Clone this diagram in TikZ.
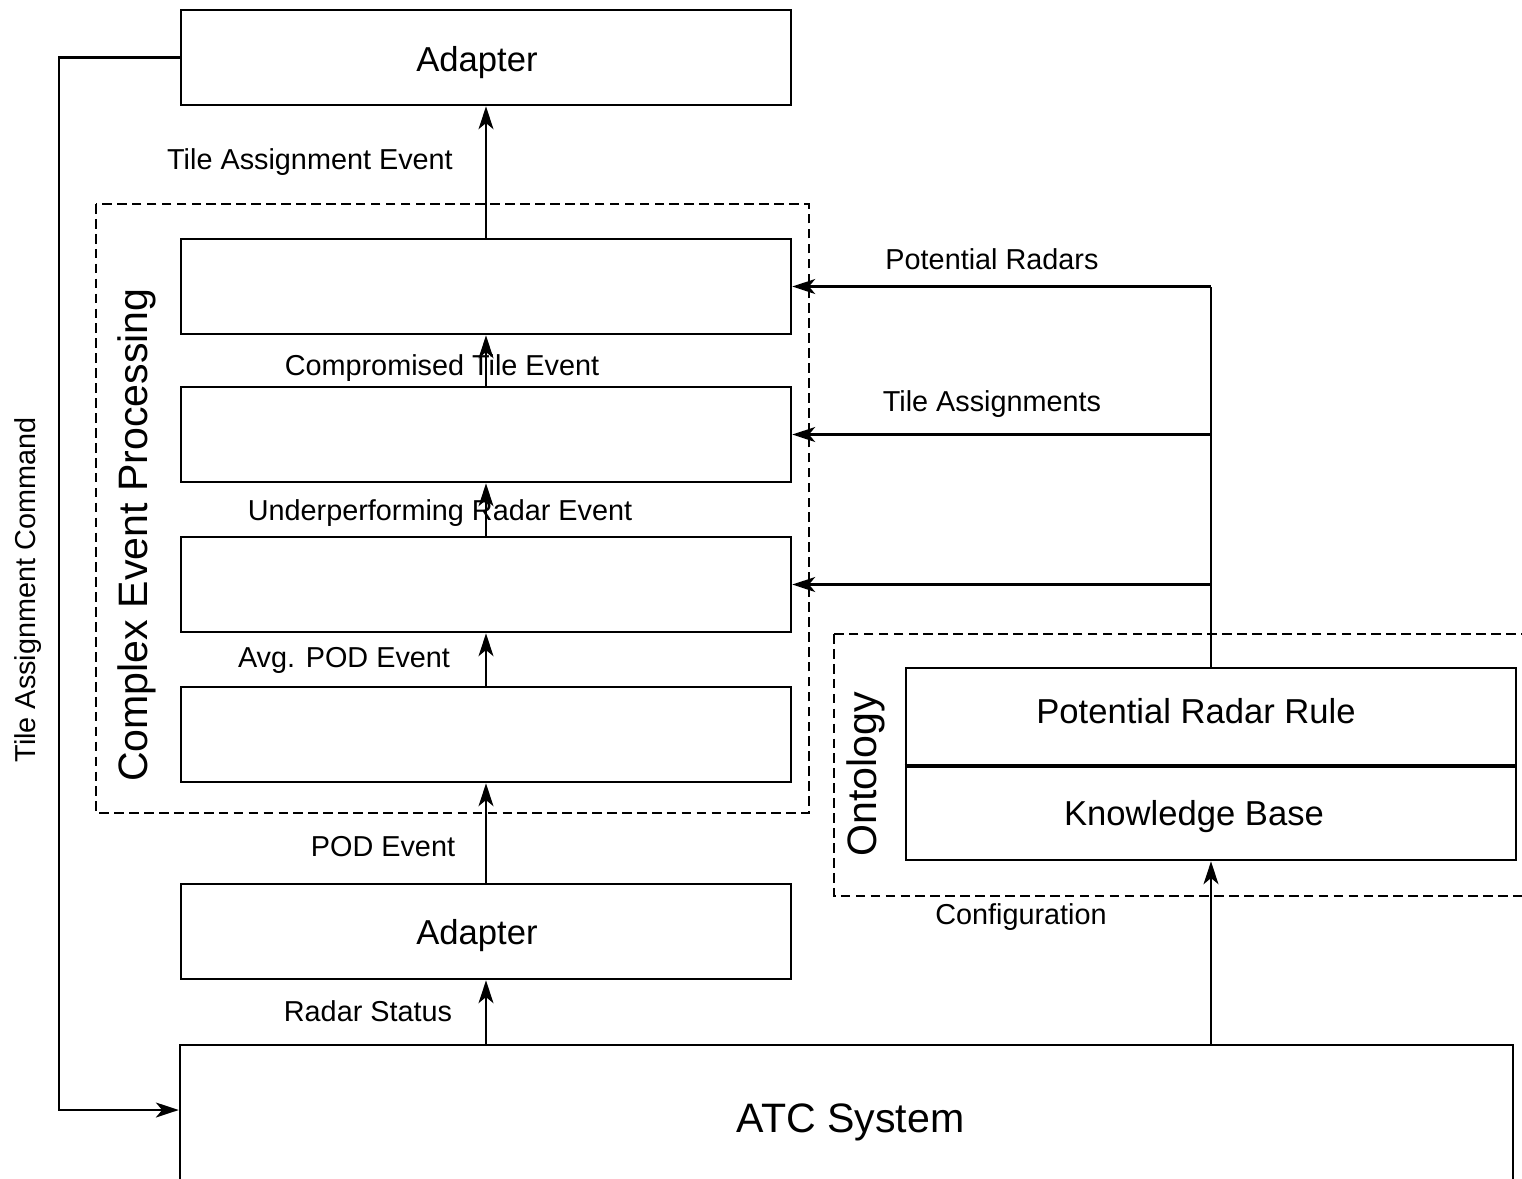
\documentclass[tikz,border=0pt]{standalone}
\usepackage{fontspec}
\setmainfont{Liberation Sans}
\usepackage{tikz}
\usetikzlibrary{arrows.meta}
\usetikzlibrary{calc}
\newcommand{\offtext}[3]{\hspace*{#1}\raisebox{#2}[\height][\depth]{#3}\hspace*{-#1}}

\begin{document}
\begin{tikzpicture}[x=0.02cm, y=-0.02cm,
	blk/.style={draw, line width=1.55pt, minimum width=12.2cm, minimum height=1.9cm, font=\fontsize{19.7}{23}\selectfont},
	lbl/.style={font=\fontsize{16.4}{19}\selectfont},
	big/.style={font=\fontsize{23.4}{27}\selectfont},
	grp/.style={dashed, line width=1.4pt, dash pattern=on 5.5pt off 3pt},
	>={Stealth[length=13pt,width=8.5pt,inset=3.5pt]}]
\clip (0,0) rectangle (1522,1178);

% event processing chain
\node[blk] (adtop) at (486,57.5) {\offtext{-0.18cm}{-0.1cm}{Adapter}};
\node[blk] (cep1) at (486,286.5) {};
\node[blk] (cep2) at (486,434.5) {};
\node[blk] (cep3) at (486,584.5) {};
\node[blk] (cep4) at (486,734.5) {};
\node[blk] (adbot) at (486,931.5) {\offtext{-0.18cm}{-0.08cm}{Adapter}};
\node[blk, minimum width=26.66cm, minimum height=2.9cm, big] (atc) at (846.5,1117.5) {\offtext{0.08cm}{-0.1cm}{ATC System}};

% ontology
\node[blk, minimum height=1.94cm] (prr) at (1211,716.5) {\offtext{-0.3cm}{0.1cm}{Potential Radar Rule}};
\node[blk] (kb) at (1211,812.5) {\offtext{-0.34cm}{-0.08cm}{Knowledge Base}};
\draw[line width=2.4pt] (prr.south west) -- (prr.south east);

% groups
\draw[grp] (96,204) rectangle (809,813);
\draw[grp] (834,634) rectangle (1540,896);
\node[big, rotate=90] (cep) at (137,535) {Complex Event Processing};
\node[big, rotate=90] (onto) at (866,774) {Ontology};

\path[->, line width=1.3pt]
(cep1.north) edge (adtop.south)
(cep2.north) edge (cep1.south)
(cep3.north) edge (cep2.south)
(cep4.north) edge (cep3.south)
(adbot.north) edge (cep4.south)
(adbot.south |- atc.north) edge (adbot.south)
(kb.south |- atc.north) edge (kb.south)
;

% rule outputs
\draw[line width=1.3pt] (prr.north) -- (prr.north |- cep1.east);
\path[->, line width=1.3pt]
(prr.north |- cep1.east) edge (cep1.east)
(prr.north |- cep2.east) edge (cep2.east)
(prr.north |- cep3.east) edge (cep3.east)
;

% command back to the ATC system
\coordinate (cmd) at (59,1110);
\draw[->, line width=1.3pt] (adtop.west) -| (cmd) -- (cmd -| atc.west);

% labels
\node[lbl] (l1) at (310,162) {Tile Assignment Event};
\node[lbl] (l2) at (442,368) {Compromised Tile Event};
\node[lbl] (l3) at (440,513) {Underperforming Radar Event};
\node[lbl] (l4) at (344,660) {Avg. POD Event};
\node[lbl] (l5) at (383,847) {POD Event};
\node[lbl] (l6) at (368,1011) {Radar Status};
\node[lbl] (l7) at (992,259) {Potential Radars};
\node[lbl] (l8) at (992,404) {Tile Assignments};
\node[lbl] (l9) at (1021,917) {Configuration};
\node[lbl, rotate=90] (l10) at (28,590) {Tile Assignment Command};
\end{tikzpicture}
\end{document}
